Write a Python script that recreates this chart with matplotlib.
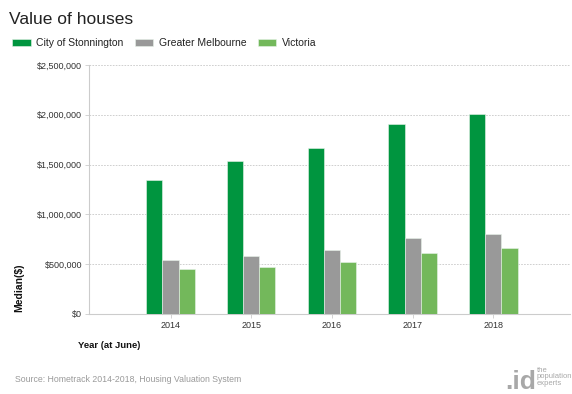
import numpy as np
import matplotlib.pyplot as plt
from matplotlib.ticker import FuncFormatter

plt.rcParams['font.family'] = ['Liberation Sans', 'DejaVu Sans']

years = ["2014", "2015", "2016", "2017", "2018"]
stonnington = [1350000, 1535000, 1668000, 1912000, 2010000]
melbourne = [542000, 586000, 646000, 762000, 806000]
victoria = [452000, 472000, 522000, 612000, 665000]

series = [("City of Stonnington", stonnington, "#00953f"),
          ("Greater Melbourne", melbourne, "#999999"),
          ("Victoria", victoria, "#73b85b")]

fig = plt.figure(figsize=(5.72, 3.94), dpi=100)
ax = fig.add_axes([89 / 572, 1 - 314 / 394, 481 / 572, 249 / 394])

x = np.arange(len(years))
w = 0.2
for i, (name, vals, col) in enumerate(series):
    ax.bar(x + (i - 1) * w, vals, width=w, color=col, label=name,
           edgecolor="#e8f3ea", linewidth=0.4, zorder=3)

ax.set_xlim(-1.01, 4.95)
ax.set_ylim(0, 2500000)
ax.set_yticks(np.arange(0, 2500001, 500000))
ax.yaxis.set_major_formatter(FuncFormatter(lambda v, p: "${:,.0f}".format(v)))
ax.set_xticks(x)
ax.set_xticklabels(years)

ax.grid(axis="y", color="#c8c8c8", linestyle=(0, (2, 1.5)), linewidth=0.6, zorder=0)
for s in ["top", "right"]:
    ax.spines[s].set_visible(False)
ax.spines["left"].set_color("#cccccc")
ax.spines["bottom"].set_color("#cccccc")
ax.spines["left"].set_linewidth(0.8)
ax.spines["bottom"].set_linewidth(0.8)
ax.tick_params(axis="both", labelsize=6.5, labelcolor="#333333", color="#cccccc",
               length=3, width=0.6)
ax.tick_params(axis="y", pad=2)
ax.tick_params(axis="x", pad=2)

fig.text(9 / 572, 1 - 19 / 394, "Value of houses", fontsize=12.5, color="#222222",
         va="center", ha="left")
leg = fig.legend(loc="center left", bbox_to_anchor=(12 / 572, 1 - 43 / 394), ncol=3,
                 frameon=False, fontsize=7.5, handlelength=1.8, handleheight=0.75,
                 handletextpad=0.5, columnspacing=1.1, borderaxespad=0,
                 borderpad=0)
for t in leg.get_texts():
    t.set_color("#222222")

fig.text(19 / 572, 1 - 288 / 394, "Median($)", rotation=90, fontsize=7.5,
         fontweight="bold", ha="center", va="center", color="#111111")
fig.text(78 / 572, 1 - 346 / 394, "Year (at June)", fontsize=6.8, fontweight="bold",
         ha="left", va="center", color="#111111")
fig.text(15 / 572, 1 - 379 / 394, "Source: Hometrack 2014-2018, Housing Valuation System",
         fontsize=6.3, color="#9a9a9a", ha="left", va="center")

# logo
fig.text(505 / 572, 1 - 389 / 394, ".id", fontsize=19, fontweight="bold",
         color="#a8a8a8", ha="left", va="baseline")
fig.text(537 / 572, 1 - 377 / 394, "the\npopulation\nexperts", fontsize=5.5,
         color="#a8a8a8", ha="left", va="center", linespacing=0.95)

fig.savefig("out.png", dpi=100)
